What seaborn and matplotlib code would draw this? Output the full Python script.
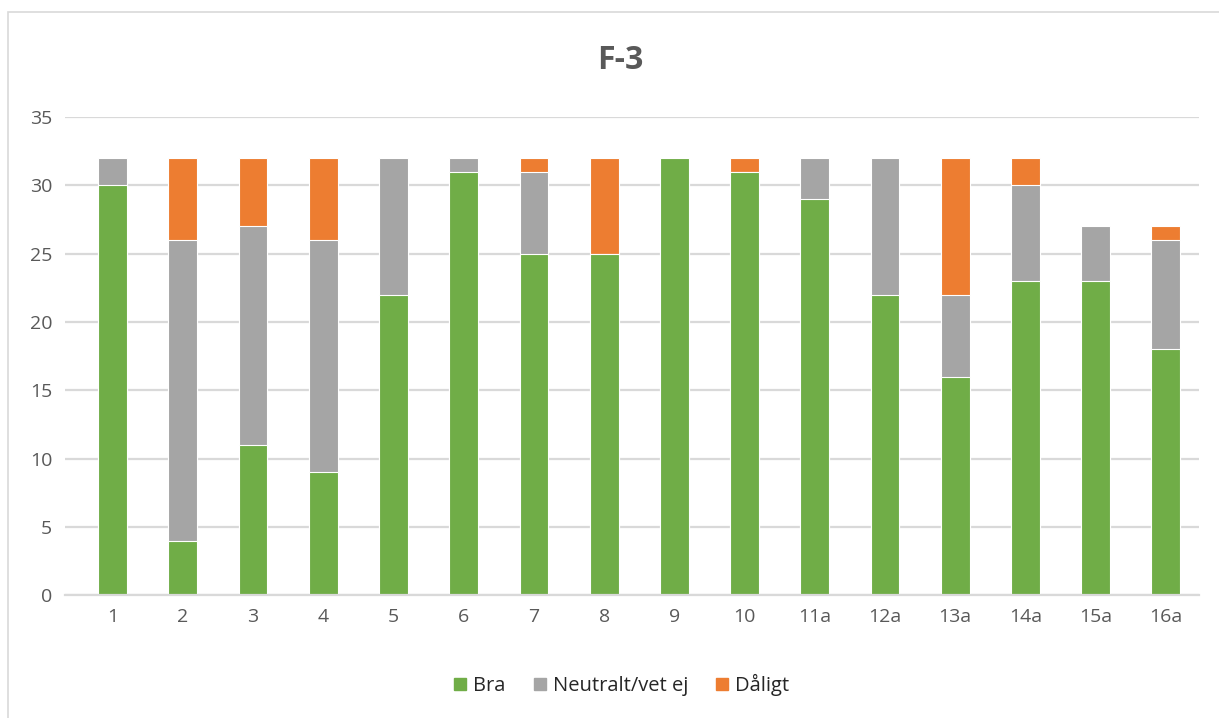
import pandas as pd
import seaborn as sns
import matplotlib.pyplot as plt
from matplotlib.patches import Rectangle, Patch

# Data
fragor = ['1', '2', '3', '4', '5', '6', '7', '8', '9', '10',
          '11a', '12a', '13a', '14a', '15a', '16a']
bra = [30, 4, 11, 9, 22, 31, 25, 25, 32, 31, 29, 22, 16, 23, 23, 18]
neutralt = [2, 22, 16, 17, 10, 1, 6, 0, 0, 0, 3, 10, 6, 7, 4, 8]
daligt = [0, 6, 5, 6, 0, 0, 1, 7, 0, 1, 0, 0, 10, 2, 0, 1]

df = pd.DataFrame({'fraga': fragor, 'Bra': bra,
                   'Neutralt/vet ej': neutralt, 'Dåligt': daligt})
df['topp_neutral'] = df['Bra'] + df['Neutralt/vet ej']
df['topp_total'] = df['topp_neutral'] + df['Dåligt']

farg_bra = '#70AD47'
farg_neu = '#A5A5A5'
farg_dal = '#ED7D31'
textfarg = '#595959'

sns.set_style('white')
plt.rcParams['font.family'] = ['Open Sans', 'DejaVu Sans']

fig = plt.figure(figsize=(12.19, 7.18), dpi=100)
ax = fig.add_axes([0.053, 0.171, 0.931, 0.666])

# staplade staplar: ritar summorna ovanpå varandra
for kol, farg in [('topp_total', farg_dal), ('topp_neutral', farg_neu), ('Bra', farg_bra)]:
    sns.barplot(data=df, x='fraga', y=kol, color=farg, width=0.41,
                edgecolor='white', linewidth=0.8, saturation=1, ax=ax)

ax.set_ylim(0, 35)
ax.set_yticks(range(0, 36, 5))
ax.set_xlim(-0.684, 15.48)
ax.yaxis.grid(True, color='#D9D9D9', linewidth=1.6)
ax.set_axisbelow(True)
for s in ['top', 'right', 'left']:
    ax.spines[s].set_visible(False)
ax.spines['bottom'].set_color('#D9D9D9')
ax.spines['bottom'].set_linewidth(1.6)
ax.set_xlabel('')
ax.set_ylabel('')
ax.tick_params(axis='both', length=0, labelsize=14, labelcolor=textfarg, pad=9)

fig.text(0.509, 0.916, 'F-3', ha='center', va='center', fontsize=23,
         fontweight='bold', color=textfarg)

handles = [Patch(color=farg_bra, label='Bra'),
           Patch(color=farg_neu, label='Neutralt/vet ej'),
           Patch(color=farg_dal, label='Dåligt')]
fig.legend(handles=handles, loc='center', bbox_to_anchor=(0.51, 0.046), ncol=3,
           frameon=False, fontsize=14.5, handlelength=0.6, handleheight=0.6,
           handletextpad=0.35, columnspacing=1.4, labelcolor='#262626')

# ram runt diagrammet
fig.add_artist(Rectangle((8 / 1219, -0.01), 1.1, 1 - 12 / 718 + 0.01,
                         transform=fig.transFigure, fill=False,
                         edgecolor='#D9D9D9', linewidth=1.2))

fig.savefig('out.png', dpi=100)
